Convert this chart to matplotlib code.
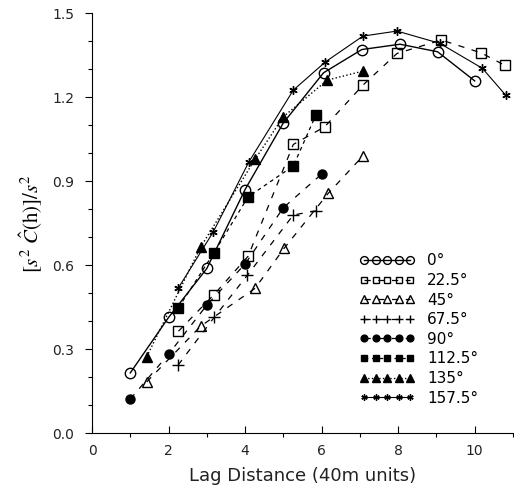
import matplotlib
matplotlib.use("Agg")
import matplotlib.pyplot as plt
from matplotlib.ticker import MultipleLocator

plt.rcParams["font.family"] = "DejaVu Sans"
plt.rcParams["mathtext.fontset"] = "stix"

# directional semivariograms
lag_0 = [1.0, 2.0, 3.0, 4.0, 5.0, 6.05, 7.05, 8.05, 9.03, 10.0]
val_0 = [0.216, 0.414, 0.589, 0.871, 1.109, 1.288, 1.371, 1.390, 1.363, 1.259]

lag_22 = [2.26, 3.19, 4.08, 5.26, 6.08, 7.08, 7.97, 9.13, 10.17, 10.78]
val_22 = [0.365, 0.496, 0.633, 1.032, 1.095, 1.244, 1.357, 1.405, 1.359, 1.315]

lag_45 = [1.43, 2.84, 4.26, 5.02, 6.17, 7.08]
val_45 = [0.184, 0.383, 0.518, 0.661, 0.857, 0.991]

lag_67 = [2.25, 3.19, 4.06, 5.26, 5.85]
val_67 = [0.244, 0.414, 0.565, 0.780, 0.795]

lag_90 = [1.0, 2.0, 3.0, 4.0, 5.0, 6.0]
val_90 = [0.1225, 0.283, 0.458, 0.605, 0.806, 0.926]

lag_112 = [2.26, 3.19, 4.08, 5.26, 5.85]
val_112 = [0.449, 0.646, 0.845, 0.955, 1.137]

lag_135 = [1.43, 2.84, 4.26, 5.0, 6.15, 7.08]
val_135 = [0.274, 0.666, 0.979, 1.131, 1.262, 1.294]

lag_157 = [2.25, 3.17, 4.1, 5.26, 6.1, 7.08, 7.97, 9.09, 10.2, 10.81]
val_157 = [0.518, 0.720, 0.970, 1.226, 1.327, 1.419, 1.437, 1.393, 1.304, 1.208]

labels = ["0°", "22.5°", "45°", "67.5°", "90°", "112.5°", "135°", "157.5°"]

fig = plt.figure(figsize=(5.14, 4.97), dpi=100)
ax = fig.add_axes([0.179, 0.128, 0.819, 0.845])

dash_long = (0, (5, 6))
series = [
    (lag_0, val_0, dict(marker="o", mfc="none", ms=7.5, ls="-", lw=1.0)),
    (lag_22, val_22, dict(marker="s", mfc="none", ms=6.5, ls=dash_long, lw=0.9)),
    (lag_45, val_45, dict(marker="^", mfc="none", ms=7, ls=dash_long, lw=0.9)),
    (lag_67, val_67, dict(marker="+", ms=8, ls=dash_long, lw=0.9)),
    (lag_90, val_90, dict(marker="o", ms=6.5, ls=dash_long, lw=0.9)),
    (lag_112, val_112, dict(marker="s", ms=6.5, ls=(0, (3, 3)), lw=0.9)),
    (lag_135, val_135, dict(marker="^", ms=7, ls=":", lw=1.0)),
    (lag_157, val_157, dict(marker=(6, 2, 0), ms=6, ls="-", lw=0.8)),
]
for (x, y, st), lab in zip(series, labels):
    ax.plot(x, y, color="black", mec="black", label=lab, **st)

ax.set_xlim(0, 11.0)
ax.set_ylim(0, 1.5)
ax.xaxis.set_major_locator(MultipleLocator(2))
ax.xaxis.set_minor_locator(MultipleLocator(1))
ax.yaxis.set_major_locator(MultipleLocator(0.3))
ax.yaxis.set_minor_locator(MultipleLocator(0.1))
ax.yaxis.set_major_formatter(plt.FuncFormatter(lambda v, p: f"{v:.1f}"))
ax.tick_params(axis="both", which="major", labelsize=10, length=5, width=0.8,
               labelcolor="#222222")
ax.tick_params(axis="both", which="minor", length=3, width=0.8)
ax.tick_params(axis="x", direction="in", pad=8)
ax.tick_params(axis="y", pad=8)
for s in ("top", "right"):
    ax.spines[s].set_visible(False)

ax.set_xlabel("Lag Distance (40m units)", fontsize=13, labelpad=6, color="#222222")
ax.set_ylabel(r"$[s^2\ \hat{C}(\mathrm{h})]/s^2$", fontsize=15, labelpad=6)

ax.legend(loc="upper left", bbox_to_anchor=(0.70, 0.49), bbox_transform=fig.transFigure,
          frameon=False, numpoints=5, markerscale=0.75, fontsize=11,
          handlelength=3.6, handletextpad=0.8, labelspacing=0.3,
          borderpad=0, borderaxespad=0)

fig.savefig("out.png", dpi=100)
